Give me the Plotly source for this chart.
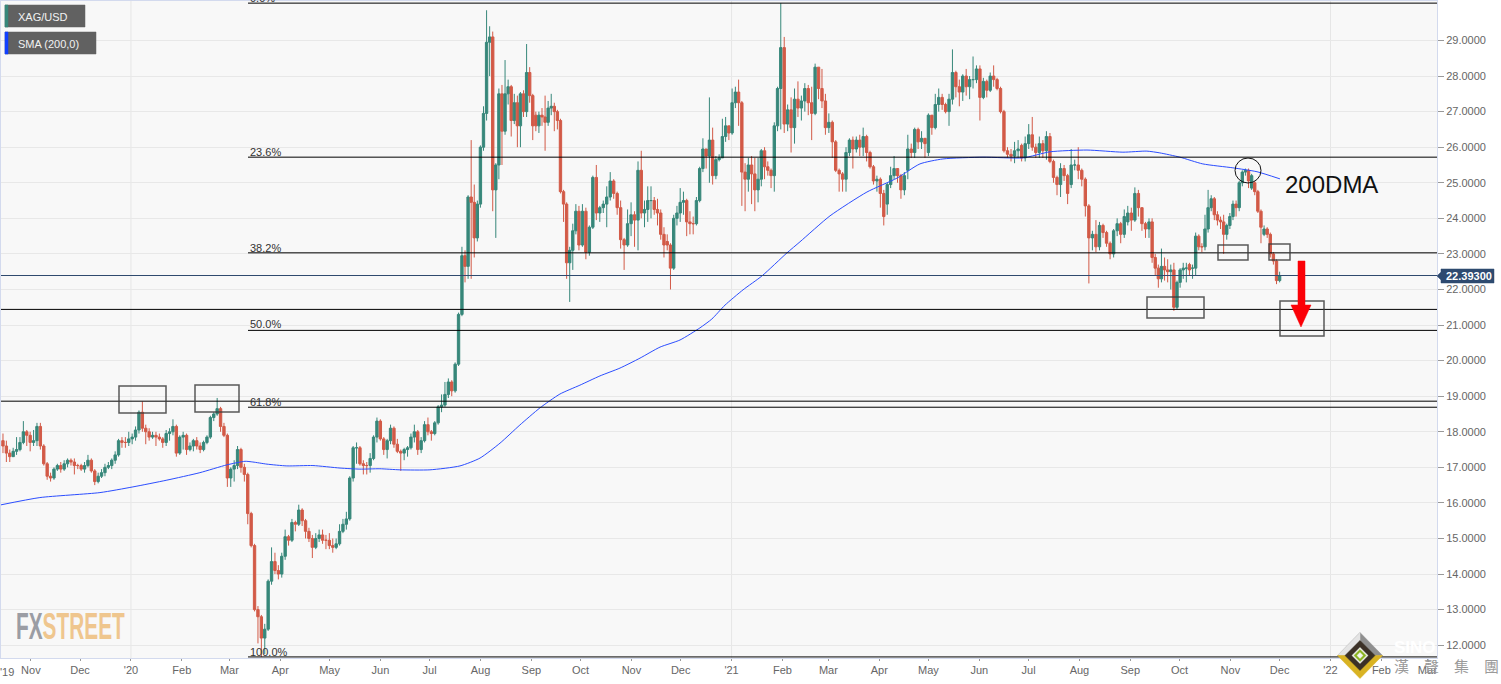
import numpy as np
import pandas as pd
import plotly.graph_objects as go

W, H = 1501, 684
ML, MR, MT, MB = 1, 64, 1, 26

closes = [
17.6,17.4,17.3,17.45,17.5,17.7,18.0,17.9,17.7,17.75,
18.15,17.6,17.1,16.75,16.7,16.95,17.05,16.95,17.1,17.2,
17.15,17.05,17.05,16.95,17.05,17.2,16.9,16.6,16.75,16.85,
17.0,17.05,17.2,17.35,17.75,17.7,17.7,17.8,17.85,18.05,
18.55,18.1,18.0,17.85,17.9,17.85,17.8,17.7,17.95,18.0,
18.15,17.4,17.85,17.9,17.5,17.6,17.75,17.6,17.5,17.7,
17.85,18.4,18.5,18.65,18.15,17.9,16.7,16.95,17.05,17.5,
17.0,16.8,15.7,14.8,13.0,12.8,12.2,12.45,13.8,14.35,
14.1,14.0,14.5,15.05,14.95,15.45,15.4,15.8,15.5,15.2,
15.0,14.75,15.0,15.1,14.95,14.95,14.8,14.75,14.85,15.2,
15.4,15.55,16.7,17.55,17.55,17.1,17.05,17.05,17.25,17.85,
18.3,17.8,17.5,17.75,18.1,17.65,17.45,17.4,17.5,17.55,
17.85,18.0,17.5,17.75,18.2,18.0,17.95,18.25,18.7,18.75,
19.05,19.4,19.15,19.9,21.3,22.95,22.65,24.6,24.45,23.45,
24.4,26.0,26.95,28.95,29.1,24.8,25.5,27.5,26.45,27.5,
27.7,26.75,27.25,26.6,27.5,27.0,28.1,27.45,26.6,26.6,
26.9,26.85,26.7,27.1,27.15,27.0,26.75,24.75,24.4,22.75,
23.1,23.65,24.2,23.25,24.2,23.05,23.75,25.15,24.15,24.3,
24.4,24.6,25.05,24.7,24.3,23.4,23.25,23.85,24.1,23.95,
25.35,24.15,24.25,24.5,24.5,24.25,24.15,23.55,23.25,23.25,
22.6,24.0,24.15,24.45,24.5,23.9,23.85,23.85,24.5,25.4,
25.95,25.75,26.2,25.2,25.65,25.7,26.3,26.6,26.4,27.25,
27.55,27.25,25.3,25.1,25.5,25.25,24.8,25.1,25.9,25.45,
25.35,25.2,26.6,27.65,28.8,26.65,27.05,26.55,27.35,27.1,
27.3,27.65,27.25,26.95,28.25,27.65,27.3,26.55,26.7,26.15,
25.35,25.25,25.1,25.85,26.2,25.95,26.2,26.0,26.3,25.85,
25.45,25.05,25.1,24.7,24.05,24.95,25.2,25.4,25.2,24.8,
25.2,25.95,25.85,26.5,26.15,26.25,26.1,26.9,26.55,27.2,
27.4,27.2,27.0,27.35,28.1,27.7,27.55,28.0,27.7,27.9,
27.9,28.2,27.4,27.85,27.6,28.0,27.9,27.65,27.0,25.9,
25.8,25.75,25.9,25.95,25.7,26.1,26.35,26.0,25.85,26.1,
25.9,26.3,25.6,25.15,24.95,25.4,25.2,24.7,25.5,25.5,
25.35,25.1,24.35,23.45,23.55,23.2,23.8,23.6,23.3,23.0,
23.65,23.85,23.55,24.05,24.15,23.95,24.7,24.3,23.85,23.7,
23.9,22.9,22.6,22.3,22.65,22.55,22.5,22.55,21.5,22.2,
22.55,22.6,22.6,22.55,22.6,23.5,23.2,23.2,23.7,24.3,
24.55,24.1,23.95,23.9,23.55,23.8,24.05,24.4,24.3,25.0,
25.3,25.35,25.05,25.2,24.75,24.2,23.75,23.7,23.55,23.0,
22.8,22.25,22.39]

opens = [
17.75,17.6,17.4,17.3,17.45,17.5,17.7,18.0,17.9,17.7,
17.75,18.15,17.6,17.1,16.75,16.7,16.95,17.05,16.95,17.1,
17.2,17.15,17.05,17.05,16.95,17.05,17.2,16.9,16.6,16.75,
16.85,17.0,17.05,17.2,17.35,17.75,17.7,17.7,17.8,17.85,
18.05,18.55,18.1,18.0,17.85,17.9,17.85,17.8,17.7,17.95,
18.0,18.15,17.4,17.85,17.9,17.5,17.6,17.75,17.6,17.5,
17.7,17.85,18.4,18.5,18.65,18.15,17.9,16.7,16.95,17.05,
17.5,17.0,16.8,15.7,14.8,13.0,12.8,12.2,12.45,13.8,
14.35,14.1,14.0,14.5,15.05,14.95,15.45,15.4,15.8,15.5,
15.2,15.0,14.75,15.0,15.1,14.95,14.95,14.8,14.75,14.85,
15.2,15.4,15.55,16.7,17.55,17.55,17.1,17.05,17.05,17.25,
17.85,18.3,17.8,17.5,17.75,18.1,17.65,17.45,17.4,17.5,
17.55,17.85,18.0,17.5,17.75,18.2,18.0,17.95,18.25,18.7,
18.75,19.05,19.4,19.15,19.9,21.3,22.95,22.65,24.6,24.45,
23.45,24.4,26.0,26.95,28.95,29.1,24.8,25.5,27.5,26.45,
27.5,27.7,26.75,27.25,26.6,27.5,27.0,28.1,27.45,26.9,
26.6,26.9,26.85,26.7,27.1,27.15,27.0,26.75,24.75,24.4,
22.75,23.1,23.65,24.2,23.25,24.2,23.05,23.75,25.15,24.15,
24.3,24.4,24.6,25.05,24.7,24.3,23.4,23.25,23.85,24.1,
23.95,25.35,24.15,24.25,24.5,24.5,24.25,24.15,23.55,23.35,
23.25,22.6,24.0,24.15,24.45,24.5,23.9,23.85,23.85,24.5,
25.4,25.95,25.75,26.2,25.2,25.65,25.7,26.3,26.6,26.4,
27.25,27.55,27.25,25.3,25.1,25.5,25.25,24.8,25.1,25.9,
25.45,25.35,25.2,26.6,27.65,28.8,26.65,27.05,26.55,27.35,
27.1,27.3,27.65,27.25,26.95,28.25,27.65,27.3,26.55,26.7,
26.15,25.35,25.25,25.1,25.85,26.2,25.95,26.2,26.0,26.3,
25.85,25.45,25.05,25.1,24.7,24.4,24.95,25.2,25.4,25.2,
24.8,25.35,25.95,25.85,26.5,26.15,26.25,25.85,26.9,26.55,
27.2,27.4,27.2,27.0,27.35,28.1,27.7,27.55,28.0,27.7,
27.9,27.9,28.2,27.4,27.85,27.6,28.0,27.9,27.65,27.0,
25.9,25.8,25.75,25.9,26.05,25.7,26.1,26.35,26.0,25.85,
26.1,25.9,26.3,25.6,25.15,24.95,25.4,25.2,24.95,25.5,
25.5,25.35,25.1,24.35,23.45,23.55,23.2,23.8,23.6,23.3,
23.0,23.65,23.85,23.55,23.9,24.15,23.95,24.7,24.3,23.85,
23.7,23.9,22.9,22.6,22.3,22.65,22.55,22.5,22.55,21.5,
22.2,22.55,22.6,22.7,22.6,22.6,23.5,23.2,23.2,23.7,
24.3,24.55,24.1,23.95,23.9,23.55,23.8,24.05,24.4,24.3,
25.0,25.3,25.35,24.85,25.0,24.75,24.2,23.55,23.7,23.55,
23.0,22.8,22.25]

highs = [
17.95,17.75,17.5,17.55,17.85,17.85,18.3,18.05,18.0,18.05,
18.25,18.25,17.65,17.15,16.85,17.0,17.1,17.15,17.2,17.25,
17.25,17.25,17.1,17.1,17.15,17.35,17.25,16.95,16.85,16.95,
17.1,17.15,17.25,17.45,17.8,17.85,17.85,18.0,17.95,18.15,
18.6,18.85,18.2,18.1,18.0,18.0,17.95,17.85,18.05,18.1,
18.35,18.2,17.9,18.0,17.95,17.7,17.8,17.85,17.7,17.75,
17.9,18.45,18.55,18.95,18.7,18.25,17.95,17.0,17.2,17.6,
17.55,17.1,16.85,15.75,14.85,13.1,12.85,12.6,13.85,14.75,
14.6,14.25,14.6,15.25,15.1,15.55,15.5,15.95,15.85,15.55,
15.3,15.1,15.15,15.25,15.25,15.1,15.15,15.0,15.0,15.4,
15.55,15.75,16.75,17.6,17.7,17.6,17.2,17.15,17.4,17.9,
18.4,18.35,17.85,17.8,18.2,18.15,17.8,17.5,17.55,17.6,
17.95,18.2,18.05,17.85,18.3,18.4,18.05,18.3,18.75,19.05,
19.4,19.5,19.45,19.95,21.35,23.2,23.1,24.65,26.2,24.95,
24.5,26.05,27.15,29.85,29.4,29.25,25.55,27.65,27.75,28.45,
27.9,27.75,27.5,27.45,27.55,27.6,28.9,28.25,27.5,27.0,
27.0,27.1,27.45,27.3,27.5,27.25,27.05,26.8,24.8,24.45,
23.2,23.85,24.4,24.35,24.4,24.3,23.8,25.2,25.5,24.35,
24.5,24.9,25.3,25.1,24.75,24.5,23.45,24.25,24.45,24.2,
25.6,25.9,24.5,24.9,24.9,24.6,24.55,24.25,23.75,23.55,
23.3,24.1,24.35,24.85,24.75,24.55,24.2,24.05,24.6,25.45,
26.25,25.95,27.4,26.55,25.75,25.8,26.8,26.85,26.6,27.65,
27.7,27.9,27.3,25.55,25.7,25.75,25.7,25.7,25.95,26.0,
25.6,25.4,26.7,27.7,30.05,29.1,27.2,27.4,27.65,27.85,
27.45,27.8,27.75,27.7,28.35,28.25,28.2,27.5,26.95,26.75,
26.2,25.4,25.3,26.0,26.25,26.3,26.3,26.35,26.55,26.35,
25.9,25.5,25.2,25.15,24.8,25.0,25.45,25.75,25.4,25.25,
25.3,26.35,26.1,26.55,26.55,26.45,26.25,26.95,26.85,27.5,
27.65,27.5,27.25,27.5,28.75,28.15,27.9,28.05,28.2,28.0,
28.55,28.3,28.3,27.95,27.9,28.1,28.3,27.95,27.7,27.05,
26.0,25.95,26.15,26.2,26.1,26.3,26.65,26.85,26.1,26.3,
26.2,26.45,26.4,25.65,25.2,25.55,25.5,25.25,25.95,25.65,
26.0,25.4,25.15,24.4,23.65,23.95,23.9,23.85,23.65,23.35,
23.7,24.0,23.9,24.25,24.35,24.3,24.87,24.8,24.3,23.9,
24.0,24.0,23.0,22.7,23.15,22.9,22.85,22.7,22.75,22.25,
22.6,22.75,22.75,22.75,22.7,23.6,23.55,23.3,24.1,24.8,
24.65,24.6,24.2,24.05,24.1,23.85,24.15,24.5,24.5,25.05,
25.35,25.4,25.4,25.25,25.05,24.8,24.25,23.8,23.75,23.6,
23.05,22.85,22.5]

lows = [
17.4,17.15,17.15,17.3,17.35,17.45,17.65,17.6,17.45,17.6,
17.6,17.5,17.05,16.65,16.6,16.65,16.9,16.85,16.9,17.0,
17.05,16.8,16.95,16.9,16.85,17.0,16.85,16.5,16.55,16.7,
16.75,16.95,16.95,17.1,17.3,17.55,17.55,17.6,17.65,17.75,
17.95,18.0,17.65,17.75,17.8,17.6,17.75,17.55,17.6,17.75,
17.9,17.3,17.35,17.5,17.35,17.45,17.45,17.5,17.4,17.45,
17.65,17.8,18.3,18.45,18.0,17.85,16.45,16.45,16.6,16.95,
16.85,16.6,15.4,14.75,12.95,12.05,11.67,11.75,12.4,13.7,
14.0,13.85,13.9,14.4,14.8,14.9,15.2,15.35,15.35,15.0,
14.9,14.45,14.7,14.9,14.85,14.7,14.7,14.6,14.7,14.8,
15.15,15.25,15.5,16.6,17.1,17.05,16.8,16.8,16.85,17.2,
17.7,17.75,17.35,17.25,17.65,17.55,17.4,16.9,17.2,17.3,
17.5,17.7,17.35,17.4,17.7,17.9,17.75,17.9,18.2,18.55,
18.7,18.95,19.0,19.1,19.85,21.25,22.2,22.3,22.3,22.9,
23.35,24.3,25.9,26.75,28.0,24.2,23.45,25.1,25.5,26.35,
27.2,26.3,26.65,26.0,26.0,26.85,26.85,27.25,26.2,26.45,
26.4,26.6,25.9,26.6,26.9,26.45,26.5,24.7,23.9,22.3,
21.65,22.55,23.55,23.1,23.2,22.85,22.95,23.7,23.95,23.9,
24.15,23.75,24.5,24.55,24.1,23.15,22.55,23.2,23.5,23.2,
23.1,24.0,23.75,23.9,24.0,24.1,23.8,23.4,22.9,23.1,
22.0,22.55,23.8,23.9,24.1,23.5,23.55,23.55,23.8,24.45,
25.3,25.4,25.0,24.95,25.1,25.6,26.0,26.15,26.2,26.35,
27.1,26.6,24.35,24.2,24.75,24.4,24.2,24.45,24.9,25.1,
25.2,24.85,24.75,26.45,26.5,26.4,26.45,25.85,26.1,26.85,
26.75,27.0,26.9,26.2,26.9,27.35,27.1,26.35,26.4,25.7,
25.3,24.75,24.75,24.75,25.75,25.4,25.85,25.75,25.75,25.6,
25.4,24.95,24.75,24.3,23.8,24.1,24.85,25.1,25.0,24.55,
24.65,25.1,25.7,25.7,25.95,25.95,25.7,25.75,26.35,26.5,
27.0,27.05,26.95,26.6,27.2,27.4,27.15,27.3,27.45,27.35,
27.65,27.8,26.75,27.35,27.4,27.55,27.7,27.6,26.95,25.85,
25.7,25.6,25.55,25.7,25.6,25.6,25.95,25.9,25.7,25.7,
25.7,25.65,25.55,25.0,24.65,24.6,25.05,24.4,24.85,25.35,
25.1,24.9,24.05,22.17,23.1,23.05,23.1,23.45,23.2,22.85,
22.9,23.5,23.3,23.45,23.8,23.65,23.9,24.05,23.65,23.45,
23.45,22.75,22.4,22.05,22.2,22.25,22.2,22.0,21.4,21.45,
22.05,22.3,22.2,22.4,22.3,22.4,23.1,23.05,23.1,23.6,
24.2,23.95,23.8,23.7,23.0,23.4,23.7,23.95,24.05,24.2,
24.9,25.2,24.85,24.8,24.65,24.15,23.3,23.5,23.45,22.9,
22.7,22.15,22.2]

# day offsets from 2020-01-01 at which bar numbers fall (the bars are not evenly read off)
bar_anchor_index = [0, 135, 173, 190, 234, 299, 340, 382]
bar_anchor_days = [-78, 201.7, 273, 309, 396, 532, 620.4, 700]

sma_days = [-79.8,-55.5,-18.9,1.2,21.9,42,58.5,69.5,74.3,82.9,95,110.9,127.4,139.5,151.7,163.9,182.2,200.5,212.7,
224.9,237,249.2,261.4,273.6,285.8,298,310.2,322.4,334.6,346.7,354,362,373,384.5,399.8,407.7,426,448.5,466.8,
480.8,494.8,519.2,543.6,560,582.6,604.5,619.1,627,639.2,653.2,671.5,686.2,700.2]
sma_values = [15.94,16.15,16.29,16.45,16.64,16.85,17.07,17.17,17.15,17.09,17.04,17.05,16.98,16.95,16.96,16.93,16.93,17.04,17.26,
17.68,18.19,18.67,19.06,19.31,19.57,19.79,20.07,20.38,20.58,20.92,21.17,21.56,21.99,22.38,23.03,23.34,24.07,24.74,25.13,
25.53,25.67,25.72,25.70,25.87,25.92,25.86,25.89,25.84,25.72,25.53,25.42,25.31,25.11]

fib_levels = [30.05, 25.72, 23.03, 20.85, 18.69, 11.67]
fib_labels = ["0.0%", "23.6%", "38.2%", "50.0%", "61.8%", "100.0%"]
full_levels = [21.44, 18.86]
last_price = 22.393

month_ticks = ["2019-11-01","2019-12-01","2020-01-01","2020-02-01","2020-03-01","2020-04-01","2020-05-01","2020-06-01",
"2020-07-01","2020-08-01","2020-09-01","2020-10-01","2020-11-01","2020-12-01","2021-01-01","2021-02-01","2021-03-01",
"2021-04-01","2021-05-01","2021-06-01","2021-07-01","2021-08-01","2021-09-01","2021-10-01","2021-11-01","2021-12-01",
"2022-01-01","2022-02-01","2022-03-01"]
month_labels = ["Nov","Dec","'20","Feb","Mar","Apr","May","Jun","Jul","Aug","Sep","Oct","Nov","Dec","'21","Feb","Mar",
"Apr","May","Jun","Jul","Aug","Sep","Oct","Nov","Dec","'22","Feb","Mar"]
year_ticks = ["2020-01-01","2021-01-01","2022-01-01"]
price_ticks = list(range(12, 30))

BASE = pd.Timestamp("2020-01-01")
def day(d):
    return BASE + pd.to_timedelta(d, unit="D")
def px(x):
    return (x - ML) / (W - ML - MR)
def py(y):
    return (H - MB - y) / (H - MT - MB)

bar_days = np.interp(np.arange(len(closes)), bar_anchor_index, bar_anchor_days)
bar_dates = [day(d) for d in bar_days]
sma_dates = [day(d) for d in sma_days]

UP, DOWN = "#37877a", "#d25a47"
fig = go.Figure()
fig.add_trace(go.Candlestick(
    x=bar_dates, open=opens, high=highs, low=lows, close=closes,
    whiskerwidth=0,
    increasing=dict(line=dict(color=UP, width=1), fillcolor=UP),
    decreasing=dict(line=dict(color=DOWN, width=1), fillcolor=DOWN),
    showlegend=False, hoverinfo="skip"))
fig.add_trace(go.Scatter(x=sma_dates, y=sma_values, mode="lines",
    line=dict(color="#2b4dff", width=1, shape="spline", smoothing=0.6),
    showlegend=False, hoverinfo="skip"))

shapes = []
for t in year_ticks:
    shapes.append(dict(type="line", xref="x", yref="paper", x0=t, x1=t, y0=0, y1=1,
                       line=dict(color="#e6e6e6", width=1), layer="below"))
for lv in fib_levels:
    shapes.append(dict(type="line", xref="paper", yref="y", x0=px(248), x1=1, y0=lv, y1=lv,
                       line=dict(color="#000000", width=1)))
for lv in full_levels:
    shapes.append(dict(type="line", xref="paper", yref="y", x0=0, x1=1, y0=lv, y1=lv,
                       line=dict(color="#000000", width=1)))
shapes.append(dict(type="line", xref="paper", yref="y", x0=0, x1=1, y0=last_price, y1=last_price,
                   line=dict(color="#2f4a6e", width=1)))

boxes = [(119,386,166,413),(195,385,239,412),(1147,297,1204,318),(1218,245,1248,260),(1269,244,1290,260),(1280,301,1324,336)]
for x0,y0,x1,y1 in boxes:
    shapes.append(dict(type="rect", xref="paper", yref="paper", x0=px(x0), x1=px(x1), y0=py(y0), y1=py(y1),
                       line=dict(color="rgba(60,60,60,0.85)", width=1.5)))
shapes.append(dict(type="circle", xref="paper", yref="paper", x0=px(1235), x1=px(1261), y0=py(158), y1=py(183),
                   line=dict(color="#111111", width=1)))

def poly(points, fill, line=None):
    path = "M " + " L ".join(f"{px(a):.5f},{py(b):.5f}" for a,b in points) + " Z"
    return dict(type="path", xref="paper", yref="paper", path=path, fillcolor=fill,
                line=dict(color=line or fill, width=0.5))

shapes.append(poly([(1298,261),(1305,261),(1305,305),(1311,305),(1301,327),(1291,305),(1298,305)], "#fb0007"))

# top-left legend chips
shapes += [poly([(5,5),(85,5),(85,27),(5,27)], "#616161"), poly([(5,5),(8,5),(8,27),(5,27)], "#37877a"),
           poly([(5,32),(96,32),(96,54),(5,54)], "#616161"), poly([(5,32),(8,32),(8,54),(5,54)], "#1040ff")]

# price tag
shapes.append(poly([(1437,276),(1441,272),(1441,269),(1494,269),(1494,283),(1441,283),(1441,280)], "#2e4a70"))

# corner logo
cx, cy = 1360, 655.5
shapes += [
    poly([(cx,cy-23),(cx+22.5,cy),(cx-22.5,cy)], "#8f8f8f"),
    poly([(cx,cy-23),(cx-22.5,cy),(cx-14,cy),(cx,cy-15)], "#e4e4e4"),
    poly([(cx-22.5,cy),(cx+22.5,cy),(cx,cy+23)], "#d9b323"),
    poly([(cx,cy-15),(cx+15,cy),(cx,cy+15),(cx-15,cy)], "#3b3026"),
    poly([(cx,cy-8),(cx+8,cy),(cx,cy+8),(cx-8,cy)], "#f5f5f0"),
    poly([(cx,cy-6),(cx+6,cy),(cx,cy+6),(cx-6,cy)], "#8ab21e"),
    poly([(cx,cy-3),(cx+3,cy),(cx,cy+3),(cx-3,cy)], "#f5f5f0"),
]

FONT = "Liberation Sans"
ann = []
def text(x, y, s, size, color, anchor="left", family=FONT):
    ann.append(dict(xref="paper", yref="paper", x=px(x), y=py(y), text=s, showarrow=False, xanchor=anchor,
                    yanchor="middle", align="left", borderpad=0, font=dict(family=family, size=size, color=color)))

text(17, 17, "XAG/USD", 11, "#f2f2f2")
text(17, 44, "SMA (200,0)", 11, "#f2f2f2")
text(1284, 184, "200DMA", 24, "#111111")
text(1445, 276, "<b>22.39300</b>", 11, "#ffffff")
text(7, 671.5, "'19", 11, "#666666", "center")
fib_label_y = [-2, 152, 247.5, 324.5, 402, 652]
for s, y in zip(fib_labels, fib_label_y):
    text(249, y, s, 11, "#333333")
text(15, 626, "<b><span style='color:#9b9da4'>FX</span><span style='color:#efc68e'>STREET</span></b>", 37, "#9b9da4")
text(1393, 647, "<b>SINO</b>", 17, "#ffffff")
for x, s in zip([1393, 1423, 1453, 1483], ["漢", "聲", "集", "團"]):
    text(x, 665, s, 15, "#9a9a9a", family="Noto Sans CJK TC")

fig.update_layout(
    width=W, height=H, autosize=False,
    margin=dict(l=ML, r=MR, t=MT, b=MB, pad=0),
    paper_bgcolor="#ffffff", plot_bgcolor="#f8f8f8",
    font=dict(family=FONT, size=11, color="#666666"),
    showlegend=False, shapes=shapes, annotations=ann,
    boxgap=0.15, boxgroupgap=0.1,
    xaxis=dict(type="date", range=[day(-79.2), day(795.9)], rangeslider=dict(visible=False),
               tickmode="array", tickvals=month_ticks, ticktext=month_labels, tickangle=0,
               showgrid=False, zeroline=False, showline=True, linecolor="#d3daee", linewidth=1,
               mirror=True, ticks="outside", ticklen=2, tickcolor="#999999",
               tickfont=dict(family=FONT, size=11, color="#666666")),
    yaxis=dict(side="right", range=[11.64, 30.11], tickmode="array", tickvals=price_ticks,
               ticktext=[f"{v:.4f}" for v in price_ticks], showgrid=True, gridcolor="#e8e8e8", gridwidth=1,
               zeroline=False, showline=True, linecolor="#d3daee", linewidth=1, mirror=True,
               ticks="outside", ticklen=6, tickcolor="#999999",
               tickfont=dict(family=FONT, size=11, color="#666666")),
)

# the wordmark in the reference is a condensed face: squeeze the real text to its 109 px width
post = """
document.body.style.margin='0';
document.querySelectorAll('.annotation-text').forEach(function(t){
  if (t.textContent === 'FXSTREET') {
    var b = t.getBBox();
    var k = 109 / b.width;
    t.setAttribute('transform', 'translate(' + b.x + ',0) scale(' + k + ',1) translate(' + (-b.x) + ',0)');
  }
});
"""
fig.write_html("out.html", post_script=post, config=dict(displayModeBar=False, responsive=False))
